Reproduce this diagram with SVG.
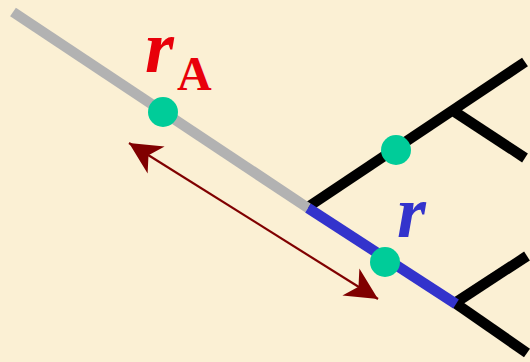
<svg xmlns="http://www.w3.org/2000/svg" width="530" height="362" viewBox="0 0 530 362">
  <defs>
    <style>
      .seg { fill: none; stroke-width: 10.5; stroke-linecap: butt; }
      .black { stroke: #000000; }
      .gray { stroke: #B2B2B2; }
      .blue { stroke: #3333CC; }
      .dot { fill: #00CC99; }
      .lbl { font-family: "Liberation Serif", "Times New Roman", serif; font-weight: bold; }
      .dim { stroke: #800000; stroke-width: 2.2; fill: none; }
    </style>
    <marker id="head" markerUnits="userSpaceOnUse" markerWidth="40" markerHeight="40" viewBox="-34 -20 40 40" refX="0" refY="0" orient="auto-start-reverse">
      <path d="M0,0 L-32,-16 L-23,0 L-32,16 Z" fill="#800000"/>
    </marker>
  </defs>
  <rect x="0" y="0" width="530" height="362" fill="#FBF0D4"/>

  <g id="connectors">
    <line class="seg black" x1="308" y1="207" x2="525" y2="62"/>
    <line class="seg black" x1="455" y1="112" x2="525" y2="158"/>
    <line class="seg black" x1="455" y1="303" x2="527" y2="353"/>
    <line class="seg black" x1="455" y1="303" x2="527" y2="256"/>
    <line class="seg gray" x1="13" y1="12" x2="308" y2="208"/>
    <line class="seg blue" x1="308" y1="208" x2="456" y2="304"/>
    <line class="dim" x1="129" y1="143" x2="378" y2="299" marker-start="url(#head)" marker-end="url(#head)"/>
  </g>

  <g id="dotA"><circle class="dot" cx="163" cy="112" r="15"/></g>
  <g id="dotB"><circle class="dot" cx="396" cy="150" r="15"/></g>
  <g id="dotC"><circle class="dot" cx="385" cy="262" r="15"/></g>

  <g id="labelRA">
    <text class="lbl" x="145" y="72" font-size="74" font-style="italic" fill="#E8000A">r</text>
    <text class="lbl" x="177" y="90" font-size="48" fill="#E8000A">A</text>
  </g>
  <g id="labelR">
    <text class="lbl" x="397" y="237" font-size="74" font-style="italic" fill="#3333CC">r</text>
  </g>
</svg>
